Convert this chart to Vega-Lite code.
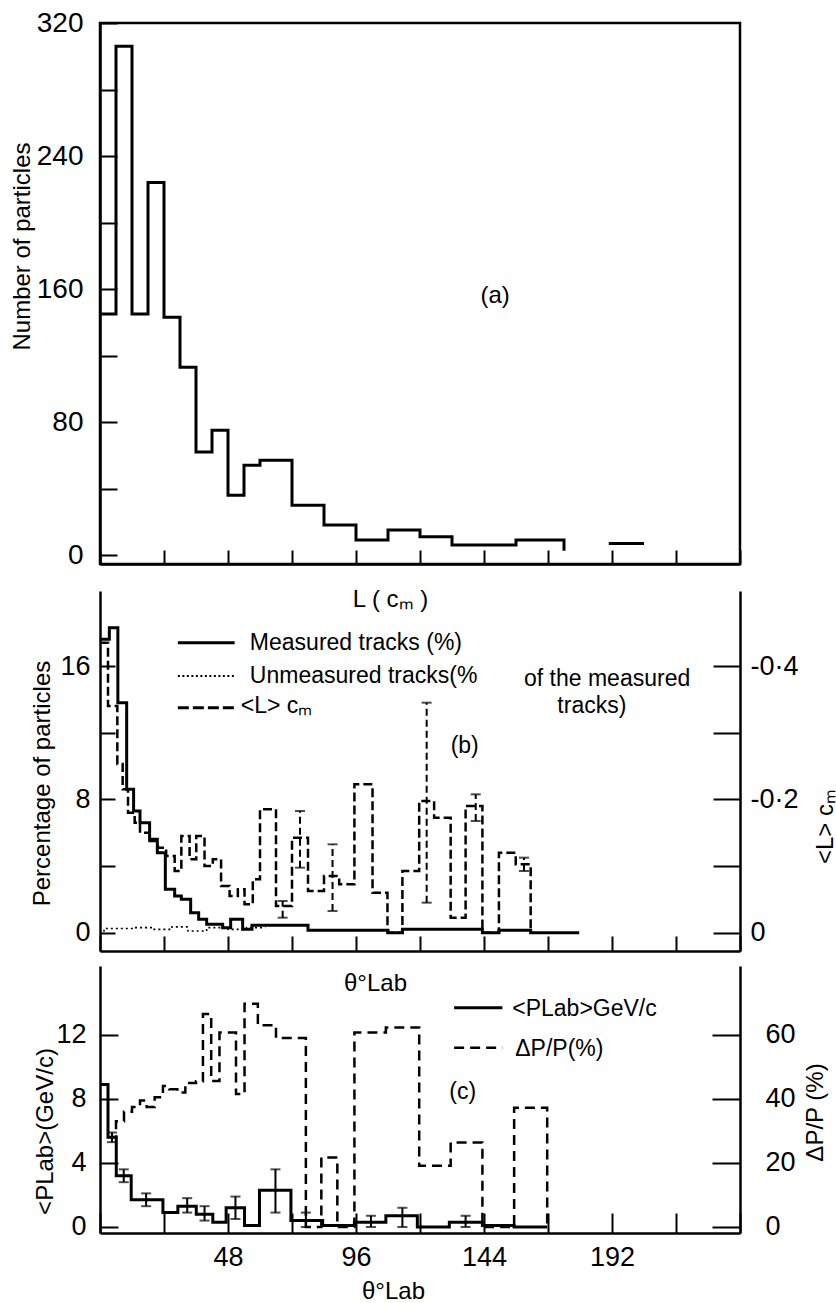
{
  "$schema": "https://vega.github.io/schema/vega-lite/v6.json",
  "padding": {"left": 8, "top": 7, "right": 5, "bottom": 5},
  "background": "white",
  "config": {
    "font": "Liberation Sans",
    "view": {"stroke": null},
    "axis": {"domainColor": "black", "domainWidth": 2.5, "tickColor": "black", "tickWidth": 2, "labelColor": "black", "labelFont": "Liberation Sans", "labelFontSize": 27, "titleFont": "Liberation Sans", "titleFontSize": 24, "titleFontWeight": "normal", "titleColor": "black", "grid": false, "labelFlush": false, "labelOverlap": false},
    "text": {"font": "Liberation Sans", "color": "black"}
  },
  "datasets": {
    "aHist": [
      {"L": 0, "n": 145, "seg": 1}, {"L": 1, "n": 306, "seg": 1}, {"L": 2, "n": 145, "seg": 1}, {"L": 3, "n": 224, "seg": 1},
      {"L": 4, "n": 143, "seg": 1}, {"L": 5, "n": 113, "seg": 1}, {"L": 6, "n": 62, "seg": 1}, {"L": 7, "n": 75, "seg": 1},
      {"L": 8, "n": 36, "seg": 1}, {"L": 9, "n": 54, "seg": 1}, {"L": 10, "n": 57, "seg": 1}, {"L": 12, "n": 30, "seg": 1},
      {"L": 14, "n": 18, "seg": 1}, {"L": 16, "n": 9, "seg": 1}, {"L": 18, "n": 15, "seg": 1}, {"L": 20, "n": 11, "seg": 1},
      {"L": 22, "n": 6, "seg": 1}, {"L": 26, "n": 9, "seg": 1}, {"L": 29, "n": 9, "seg": 1}, {"L": 29, "n": 2.5, "seg": 1},
      {"L": 31.8, "n": 7, "seg": 2}, {"L": 34, "n": 7, "seg": 2}
    ],
    "bMeas": [
      {"deg": 0, "pct": 17.6}, {"deg": 3.5, "pct": 18.3}, {"deg": 6.7, "pct": 13.8}, {"deg": 10, "pct": 8.6},
      {"deg": 12.6, "pct": 7.3}, {"deg": 15, "pct": 6.6}, {"deg": 18.6, "pct": 5.6}, {"deg": 21.5, "pct": 4.8},
      {"deg": 24.5, "pct": 2.6}, {"deg": 28, "pct": 2.2}, {"deg": 30.5, "pct": 2.0}, {"deg": 34, "pct": 1.2},
      {"deg": 37, "pct": 0.8}, {"deg": 40, "pct": 0.5}, {"deg": 46, "pct": 0.3}, {"deg": 49, "pct": 0.8},
      {"deg": 53.5, "pct": 0.2}, {"deg": 57, "pct": 0.45}, {"deg": 78, "pct": 0.15}, {"deg": 108, "pct": 0.0},
      {"deg": 113.4, "pct": 0.2}, {"deg": 143.4, "pct": 0.0}, {"deg": 149.6, "pct": 0.15}, {"deg": 161.5, "pct": 0.0},
      {"deg": 179.7, "pct": 0.0}
    ],
    "bUnmeas": [
      {"deg": 0, "pct": 0.0}, {"deg": 1.5, "pct": 0.25}, {"deg": 12, "pct": 0.3}, {"deg": 20, "pct": 0.2},
      {"deg": 27, "pct": 0.35}, {"deg": 33, "pct": 0.1}, {"deg": 40, "pct": 0.3}, {"deg": 48, "pct": 0.2},
      {"deg": 55, "pct": 0.3}, {"deg": 62, "pct": 0.3}
    ],
    "bL": [
      {"deg": 0, "L": 0.435}, {"deg": 3, "L": 0.34}, {"deg": 6.5, "L": 0.253}, {"deg": 8.5, "L": 0.215},
      {"deg": 10.5, "L": 0.18}, {"deg": 13, "L": 0.165}, {"deg": 15, "L": 0.15}, {"deg": 18.6, "L": 0.1375},
      {"deg": 21.7, "L": 0.1275}, {"deg": 24.8, "L": 0.115}, {"deg": 28, "L": 0.0925}, {"deg": 30.5, "L": 0.145},
      {"deg": 33.6, "L": 0.11}, {"deg": 36.1, "L": 0.145}, {"deg": 39.2, "L": 0.1}, {"deg": 42.3, "L": 0.11},
      {"deg": 45.4, "L": 0.07}, {"deg": 48.6, "L": 0.055}, {"deg": 51.7, "L": 0.065}, {"deg": 54.2, "L": 0.0425},
      {"deg": 57.3, "L": 0.08}, {"deg": 60, "L": 0.185}, {"deg": 66, "L": 0.04}, {"deg": 72, "L": 0.1425},
      {"deg": 78, "L": 0.0625}, {"deg": 84, "L": 0.085}, {"deg": 89.7, "L": 0.0725}, {"deg": 95.4, "L": 0.2225},
      {"deg": 102.2, "L": 0.06}, {"deg": 107.8, "L": 0.0}, {"deg": 113.4, "L": 0.0925}, {"deg": 119.7, "L": 0.1975},
      {"deg": 125.3, "L": 0.1725}, {"deg": 131.5, "L": 0.0225}, {"deg": 137.1, "L": 0.19}, {"deg": 143.4, "L": 0.0},
      {"deg": 149.6, "L": 0.12}, {"deg": 155.9, "L": 0.1025}, {"deg": 161.5, "L": 0.1025}, {"deg": 161.5, "L": 0.0}
    ],
    "bLerr": [
      {"deg": 68.5, "lo": 0.0225, "hi": 0.0475}, {"deg": 75, "lo": 0.0975, "hi": 0.1825},
      {"deg": 87.2, "lo": 0.0325, "hi": 0.1325}, {"deg": 122.5, "lo": 0.045, "hi": 0.345},
      {"deg": 140.9, "lo": 0.1675, "hi": 0.2075}, {"deg": 159, "lo": 0.0925, "hi": 0.1125}
    ],
    "bKey": [
      {"x1": 29.2, "x2": 50.5, "y": 17.4, "style": "solid"},
      {"x1": 29.2, "x2": 50.5, "y": 15.4, "style": "dotted"},
      {"x1": 29.2, "x2": 50.5, "y": 13.5, "style": "dashed"}
    ],
    "bText": [
      {"x": 56.2, "y": 17.4, "t": "Measured tracks (%)"},
      {"x": 56.2, "y": 15.4, "t": "Unmeasured tracks(%"},
      {"x": 52.8, "y": 13.6, "t": "<L> cₘ"},
      {"x": 159, "y": 15.2, "t": "of the measured"},
      {"x": 171.5, "y": 13.6, "t": "tracks)"},
      {"x": 131.5, "y": 11.2, "t": "(b)"}
    ],
    "cP": [
      {"deg": 0, "P": 8.9}, {"deg": 3, "P": 5.6}, {"deg": 6.1, "P": 3.2}, {"deg": 11.7, "P": 1.7},
      {"deg": 23.6, "P": 0.9}, {"deg": 29.2, "P": 1.3}, {"deg": 36.1, "P": 0.8}, {"deg": 42.3, "P": 0.3},
      {"deg": 47.3, "P": 1.2}, {"deg": 54.2, "P": 0.1}, {"deg": 59.8, "P": 2.3}, {"deg": 71.6, "P": 0.4},
      {"deg": 83.5, "P": 0.1}, {"deg": 95.4, "P": 0.3}, {"deg": 107.2, "P": 0.7}, {"deg": 119, "P": 0.0},
      {"deg": 131, "P": 0.3}, {"deg": 143.4, "P": 0.1}, {"deg": 155.3, "P": 0.0}, {"deg": 167.7, "P": 0.0}
    ],
    "cPerr": [
      {"deg": 4.5, "lo": 5.3, "hi": 5.9}, {"deg": 8.9, "lo": 2.8, "hi": 3.6}, {"deg": 17.3, "lo": 1.3, "hi": 2.1},
      {"deg": 32.7, "lo": 0.9, "hi": 1.8}, {"deg": 39.2, "lo": 0.4, "hi": 1.3}, {"deg": 50.8, "lo": 0.5, "hi": 1.9},
      {"deg": 65.8, "lo": 0.9, "hi": 3.6}, {"deg": 77.2, "lo": 0.0, "hi": 0.9}, {"deg": 101.6, "lo": 0.0, "hi": 0.7},
      {"deg": 113.4, "lo": 0.0, "hi": 1.2}, {"deg": 137.1, "lo": 0.0, "hi": 0.7}
    ],
    "cDP": [
      {"deg": 3, "D": 28}, {"deg": 6, "D": 33}, {"deg": 9, "D": 36}, {"deg": 12, "D": 37.5},
      {"deg": 15, "D": 39.5}, {"deg": 17.5, "D": 37.5}, {"deg": 20.5, "D": 40.5}, {"deg": 23.6, "D": 44},
      {"deg": 26, "D": 43}, {"deg": 29, "D": 42}, {"deg": 32, "D": 45}, {"deg": 36, "D": 45.5},
      {"deg": 38.6, "D": 66.5}, {"deg": 41.7, "D": 45.6}, {"deg": 44.8, "D": 60.7}, {"deg": 51, "D": 41.5},
      {"deg": 54.2, "D": 69.7}, {"deg": 59.2, "D": 63}, {"deg": 66, "D": 59}, {"deg": 77.2, "D": 0},
      {"deg": 83, "D": 21.7}, {"deg": 89, "D": 0}, {"deg": 95.4, "D": 60.7}, {"deg": 107.2, "D": 62.3},
      {"deg": 119.7, "D": 19.1}, {"deg": 131.5, "D": 26.4}, {"deg": 143.4, "D": 0}, {"deg": 155.3, "D": 37.2},
      {"deg": 167.7, "D": 37.2}, {"deg": 167.7, "D": 0}
    ],
    "cKey": [
      {"x1": 132.8, "x2": 150.9, "y": 13.7, "style": "solid"},
      {"x1": 132.8, "x2": 150.9, "y": 11.2, "style": "dashed"}
    ],
    "cText": [
      {"x": 154.6, "y": 13.6, "t": "<PLab>GeV/c"},
      {"x": 155.7, "y": 11.1, "t": "ΔP/P(%)"},
      {"x": 131, "y": 8.4, "t": "(c)"}
    ]
  },
  "bounds": "flush",
  "spacing": 27,
  "vconcat": [
    {
      "width": 640,
      "height": 541,
      "view": {"stroke": "black", "strokeWidth": 2.5},
      "layer": [
        {
          "data": {"name": "aHist"},
          "mark": {"type": "line", "interpolate": "step-after", "color": "black", "strokeWidth": 3},
          "encoding": {
            "x": {"field": "L", "type": "quantitative", "scale": {"domain": [0, 40], "nice": false, "zero": false},
              "axis": {"values": [0, 4, 8, 12, 16, 20, 24, 28, 32, 36, 40], "tickSize": -14, "labels": false, "title": "L ( cₘ )", "titleX": 290, "titleY": 35, "titleBaseline": "middle", "titleAlign": "center"}},
            "y": {"field": "n", "type": "quantitative", "scale": {"domain": [-5.4, 320], "nice": false, "zero": false},
              "axis": {"values": [0, 40, 80, 120, 160, 200, 240, 280, 320], "tickSize": -17, "labelPadding": 34, "labelFontSize": 28, "labelExpr": "datum.value % 80 === 0 ? datum.label : ''", "title": "Number of particles", "titleX": -78, "titleY": 223, "titleBaseline": "middle", "titleAlign": "center"}},
            "detail": {"field": "seg"},
            "order": {"value": null}
          }
        },
        {
          "data": {"values": [{"L": 24.7, "n": 156, "t": "(a)"}]},
          "mark": {"type": "text", "fontSize": 24},
          "encoding": {"x": {"field": "L", "type": "quantitative"}, "y": {"field": "n", "type": "quantitative"}, "text": {"field": "t"}}
        }
      ]
    },
    {
      "bounds": "flush",
      "spacing": 15,
      "vconcat": [
        {
          "width": 640,
          "height": 360,
          "resolve": {"scale": {"y": "independent"}},
          "layer": [
            {
              "layer": [
                {
                  "data": {"name": "bMeas"},
                  "mark": {"type": "line", "interpolate": "step-after", "color": "black", "strokeWidth": 3},
                  "encoding": {
                    "x": {"field": "deg", "type": "quantitative", "scale": {"domain": [0, 240], "nice": false, "zero": false},
                      "axis": {"values": [0, 24, 48, 72, 96, 120, 144, 168, 192, 216, 240], "tickSize": -15, "labels": false, "title": "θ°Lab", "titleX": 275, "titleY": 32, "titleBaseline": "middle", "titleAlign": "center"}},
                    "y": {"field": "pct", "type": "quantitative", "scale": {"domain": [-1.1, 20.5], "nice": false, "zero": false},
                      "axis": {"orient": "left", "values": [0, 4, 8, 12, 16], "tickSize": -15, "labelPadding": 25, "labelExpr": "datum.value % 8 === 0 ? datum.label : ''", "title": "Percentage of particles", "titleX": -58, "titleY": 192, "titleBaseline": "middle", "titleAlign": "center"}},
                    "order": {"value": null}
                  }
                },
                {
                  "data": {"name": "bUnmeas"},
                  "mark": {"type": "line", "interpolate": "step-after", "color": "black", "strokeWidth": 1.6, "strokeDash": [2, 3]},
                  "encoding": {"x": {"field": "deg", "type": "quantitative"}, "y": {"field": "pct", "type": "quantitative"}}
                },
                {
                  "data": {"name": "bKey"},
                  "transform": [{"filter": "datum.style === 'solid'"}],
                  "mark": {"type": "rule", "color": "black", "strokeWidth": 3},
                  "encoding": {"x": {"field": "x1", "type": "quantitative"}, "x2": {"field": "x2"}, "y": {"field": "y", "type": "quantitative"}}
                },
                {
                  "data": {"name": "bKey"},
                  "transform": [{"filter": "datum.style === 'dotted'"}],
                  "mark": {"type": "rule", "color": "black", "strokeWidth": 2, "strokeDash": [2, 2.5]},
                  "encoding": {"x": {"field": "x1", "type": "quantitative"}, "x2": {"field": "x2"}, "y": {"field": "y", "type": "quantitative"}}
                },
                {
                  "data": {"name": "bKey"},
                  "transform": [{"filter": "datum.style === 'dashed'"}],
                  "mark": {"type": "rule", "color": "black", "strokeWidth": 3, "strokeDash": [11, 4]},
                  "encoding": {"x": {"field": "x1", "type": "quantitative"}, "x2": {"field": "x2"}, "y": {"field": "y", "type": "quantitative"}}
                },
                {
                  "data": {"name": "bText"},
                  "mark": {"type": "text", "fontSize": 23, "align": "left", "baseline": "middle"},
                  "encoding": {"x": {"field": "x", "type": "quantitative"}, "y": {"field": "y", "type": "quantitative"}, "text": {"field": "t"}}
                }
              ]
            },
            {
              "layer": [
                {
                  "data": {"name": "bL"},
                  "mark": {"type": "line", "interpolate": "step-after", "color": "black", "strokeWidth": 2.5, "strokeDash": [9, 4]},
                  "encoding": {
                    "x": {"field": "deg", "type": "quantitative"},
                    "y": {"field": "L", "type": "quantitative", "scale": {"domain": [-0.0275, 0.5125], "nice": false, "zero": false},
                      "axis": {"orient": "right", "values": [0, 0.1, 0.2, 0.3, 0.4], "tickSize": -27, "labelPadding": 37, "labelExpr": "round(datum.value * 10) % 2 === 0 ? (round(datum.value * 10) === 0 ? '0' : '-0·' + round(datum.value * 10)) : ''", "title": "<L> cₘ", "titleAngle": 270, "titleX": 85, "titleY": 235, "titleBaseline": "middle", "titleAlign": "center"}},
                    "order": {"value": null}
                  }
                },
                {
                  "data": {"name": "bLerr"},
                  "mark": {"type": "rule", "color": "black", "strokeWidth": 2, "strokeDash": [7, 4]},
                  "encoding": {"x": {"field": "deg", "type": "quantitative"}, "y": {"field": "lo", "type": "quantitative"}, "y2": {"field": "hi"}}
                },
                {
                  "data": {"name": "bLerr"},
                  "mark": {"type": "tick", "orient": "horizontal", "color": "black", "size": 10, "thickness": 2},
                  "encoding": {"x": {"field": "deg", "type": "quantitative"}, "y": {"field": "lo", "type": "quantitative"}}
                },
                {
                  "data": {"name": "bLerr"},
                  "mark": {"type": "tick", "orient": "horizontal", "color": "black", "size": 10, "thickness": 2},
                  "encoding": {"x": {"field": "deg", "type": "quantitative"}, "y": {"field": "hi", "type": "quantitative"}}
                }
              ]
            }
          ]
        },
        {
          "width": 640,
          "height": 267,
          "resolve": {"scale": {"y": "independent"}},
          "layer": [
            {
              "layer": [
                {
                  "data": {"name": "cP"},
                  "mark": {"type": "line", "interpolate": "step-after", "color": "black", "strokeWidth": 3},
                  "encoding": {
                    "x": {"field": "deg", "type": "quantitative", "scale": {"domain": [0, 240], "nice": false, "zero": false},
                      "axis": {"values": [0, 24, 48, 72, 96, 120, 144, 168, 192, 216, 240], "tickSize": -20, "labelPadding": 31, "labelExpr": "(datum.value % 48 === 0 && datum.value > 0 && datum.value < 240) ? datum.label : ''", "title": "θ°Lab", "titleX": 293, "titleY": 58, "titleBaseline": "middle", "titleAlign": "center"}},
                    "y": {"field": "P", "type": "quantitative", "scale": {"domain": [-0.375, 16.3], "nice": false, "zero": false},
                      "axis": {"orient": "left", "values": [0, 4, 8, 12], "tickSize": -18, "labelPadding": 32, "title": "<PLab>(GeV/c)", "titleX": -55, "titleY": 165, "titleBaseline": "middle", "titleAlign": "center"}},
                    "order": {"value": null}
                  }
                },
                {
                  "data": {"name": "cPerr"},
                  "mark": {"type": "rule", "color": "black", "strokeWidth": 2},
                  "encoding": {"x": {"field": "deg", "type": "quantitative"}, "y": {"field": "lo", "type": "quantitative"}, "y2": {"field": "hi"}}
                },
                {
                  "data": {"name": "cPerr"},
                  "mark": {"type": "tick", "orient": "horizontal", "color": "black", "size": 10, "thickness": 2},
                  "encoding": {"x": {"field": "deg", "type": "quantitative"}, "y": {"field": "lo", "type": "quantitative"}}
                },
                {
                  "data": {"name": "cPerr"},
                  "mark": {"type": "tick", "orient": "horizontal", "color": "black", "size": 10, "thickness": 2},
                  "encoding": {"x": {"field": "deg", "type": "quantitative"}, "y": {"field": "hi", "type": "quantitative"}}
                },
                {
                  "data": {"name": "cKey"},
                  "transform": [{"filter": "datum.style === 'solid'"}],
                  "mark": {"type": "rule", "color": "black", "strokeWidth": 3},
                  "encoding": {"x": {"field": "x1", "type": "quantitative"}, "x2": {"field": "x2"}, "y": {"field": "y", "type": "quantitative"}}
                },
                {
                  "data": {"name": "cKey"},
                  "transform": [{"filter": "datum.style === 'dashed'"}],
                  "mark": {"type": "rule", "color": "black", "strokeWidth": 2.5, "strokeDash": [10, 6]},
                  "encoding": {"x": {"field": "x1", "type": "quantitative"}, "x2": {"field": "x2"}, "y": {"field": "y", "type": "quantitative"}}
                },
                {
                  "data": {"name": "cText"},
                  "mark": {"type": "text", "fontSize": 23, "align": "left", "baseline": "middle"},
                  "encoding": {"x": {"field": "x", "type": "quantitative"}, "y": {"field": "y", "type": "quantitative"}, "text": {"field": "t"}}
                }
              ]
            },
            {
              "layer": [
                {
                  "data": {"name": "cDP"},
                  "mark": {"type": "line", "interpolate": "step-after", "color": "black", "strokeWidth": 2.5, "strokeDash": [10, 6]},
                  "encoding": {
                    "x": {"field": "deg", "type": "quantitative"},
                    "y": {"field": "D", "type": "quantitative", "scale": {"domain": [-1.875, 81.5], "nice": false, "zero": false},
                      "axis": {"orient": "right", "values": [0, 20, 40, 60], "tickSize": -28, "labelPadding": 53, "title": "ΔP/P (%)", "titleAngle": 270, "titleX": 75, "titleY": 146, "titleBaseline": "middle", "titleAlign": "center"}},
                    "order": {"value": null}
                  }
                }
              ]
            }
          ]
        }
      ]
    }
  ]
}
